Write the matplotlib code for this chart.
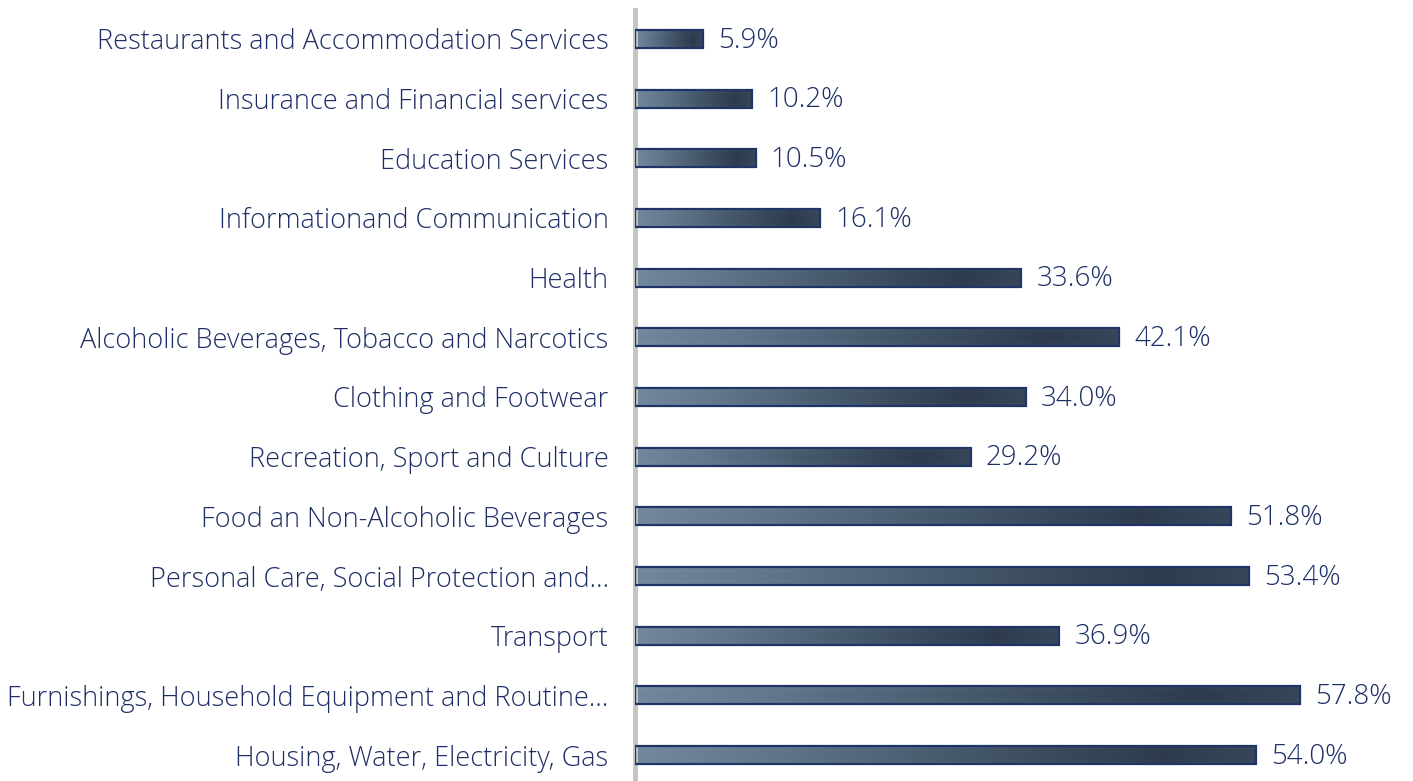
"""Barras horizontais com gradiente: variação por categoria de consumo."""

import matplotlib.pyplot as plt
import numpy as np
from matplotlib.colors import LinearSegmentedColormap

categories = [
    "Restaurants and Accommodation Services",
    "Insurance and Financial services",
    "Education Services",
    "Informationand Communication",
    "Health",
    "Alcoholic Beverages, Tobacco and Narcotics",
    "Clothing and Footwear",
    "Recreation, Sport and Culture",
    "Food an Non-Alcoholic Beverages",
    "Personal Care, Social Protection and\u2026",
    "Transport",
    "Furnishings, Household Equipment and Routine\u2026",
    "Housing, Water, Electricity, Gas",
]
values = [5.9, 10.2, 10.5, 16.1, 33.6, 42.1, 34.0, 29.2, 51.8, 53.4, 36.9, 57.8, 54.0]

label_color = "#1f2f66"
value_color = "#1c2f66"
edge_color = "#1f3566"

plt.rcParams["font.family"] = ["Open Sans", "DejaVu Sans"]

fig = plt.figure(figsize=(14.13, 7.81), dpi=100)
ax = fig.add_axes([635 / 1413, 0, 1 - 635 / 1413, 1])

y = np.arange(len(categories))
bar_h = 0.30
bars = ax.barh(y, values, height=bar_h, color="none", edgecolor=edge_color, linewidth=1.6, zorder=3)

# gradiente suave: claro à esquerda, mais escuro perto do fim
cmap = LinearSegmentedColormap.from_list("slate", ["#7a90a6", "#60748a", "#445669", "#2d3b4d"])
gx = np.linspace(0, 1, 256)
gy = np.linspace(-1, 1, 32)
horiz = np.interp(gx, [0, 0.85, 1.0], [0.0, 1.0, 0.85])
grad = 0.04 + 0.9 * horiz[None, :] + 0.06 * (1 - gy[:, None] ** 2)
grad = np.clip(grad, 0, 1)

for bar, val, yy in zip(bars, values, y):
    img = ax.imshow(grad, cmap=cmap, vmin=0, vmax=1, aspect="auto",
                    extent=[0, val, yy + bar_h / 2, yy - bar_h / 2], zorder=2,
                    interpolation="bilinear")
    img.set_clip_path(bar)
    ax.text(val + 1.3, yy + 0.03, f"{val:.1f}%", va="center", ha="left",
            fontsize=20, color=value_color, fontweight="light")

ax.set_xlim(0, (1413 - 635) / 11.5)
ax.set_ylim(12 + 26 / 59.67, -39 / 59.67)
ax.set_yticks(y)
ax.set_yticklabels(categories, fontsize=19.5, color=label_color, fontweight="light")
ax.tick_params(axis="y", length=0, pad=19)
ax.set_xticks([])
for side in ("top", "right", "bottom"):
    ax.spines[side].set_visible(False)
ax.spines["left"].set_color("#c4c4c4")
ax.spines["left"].set_linewidth(3.5)
ax.spines["left"].set_bounds(12 + 26 / 59.67, -29 / 59.67)

fig.savefig("out.png", dpi=100)
